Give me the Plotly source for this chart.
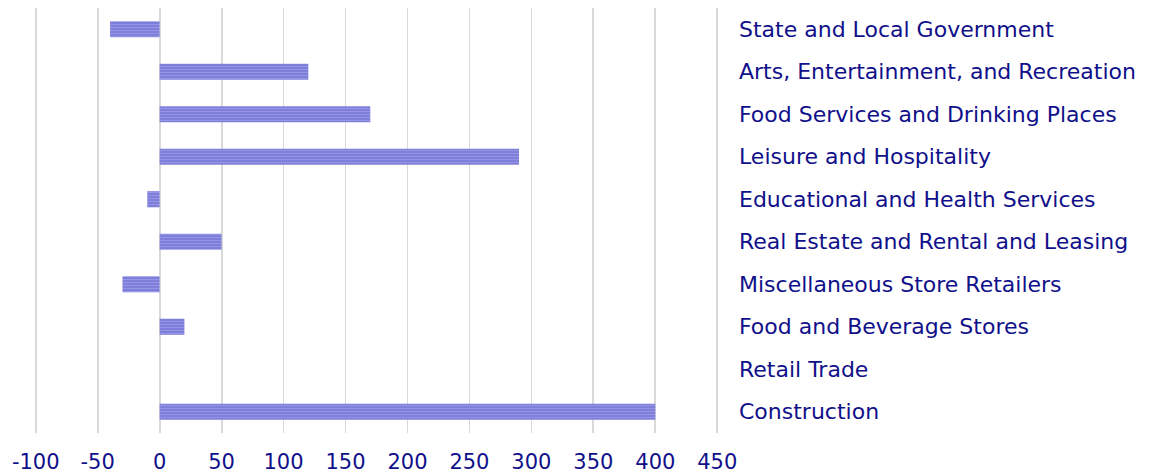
import plotly.graph_objects as go

categories = [
    "Construction",
    "Retail Trade",
    "Food and Beverage Stores",
    "Miscellaneous Store Retailers",
    "Real Estate and Rental and Leasing",
    "Educational and Health Services",
    "Leisure and Hospitality",
    "Food Services and Drinking Places",
    "Arts, Entertainment, and Recreation",
    "State and Local Government",
]
values = [400, 0, 20, -30, 50, -10, 290, 170, 120, -40]
tick_vals = [-100, -50, 0, 50, 100, 150, 200, 250, 300, 350, 400, 450]

fig = go.Figure(go.Bar(
    x=values,
    y=categories,
    orientation="h",
    marker=dict(
        color="#8484e6",
        line=dict(width=0),
        pattern=dict(shape="-", fgcolor="#adadf8", bgcolor="#7c7cd8", size=3, solidity=0.4),
    ),
    width=0.38,
))

fig.update_layout(
    width=1153,
    height=476,
    margin=dict(l=32, r=432, t=8, b=43),
    paper_bgcolor="white",
    plot_bgcolor="white",
    showlegend=False,
    font=dict(family="DejaVu Sans", color="#10108a"),
    xaxis=dict(
        range=[-103, 453],
        tickvals=tick_vals,
        ticktext=[str(v) for v in tick_vals],
        showgrid=True,
        gridcolor="#d9d9d9",
        gridwidth=1.8,
        zeroline=False,
        showline=False,
        ticks="",
        automargin=False,
        ticklabelstandoff=14,
        tickfont=dict(size=21, family="DejaVu Sans", color="#10108a"),
    ),
    yaxis=dict(
        side="right",
        categoryorder="array",
        categoryarray=categories,
        showgrid=False,
        zeroline=False,
        showline=False,
        ticks="",
        automargin=False,
        ticklabelstandoff=17,
        tickfont=dict(size=22, family="DejaVu Sans", color="#10108a"),
    ),
)

html = fig.to_html(full_html=True, include_plotlyjs=True,
                   config={"displayModeBar": False, "staticPlot": True})
html = html.replace("<body>", '<body style="margin:0;padding:0;">', 1)
html = html.replace("<head>", '<head><style>html,body{margin:0;padding:0;}</style>', 1)
with open("out.html", "w", encoding="utf-8") as f:
    f.write(html)
